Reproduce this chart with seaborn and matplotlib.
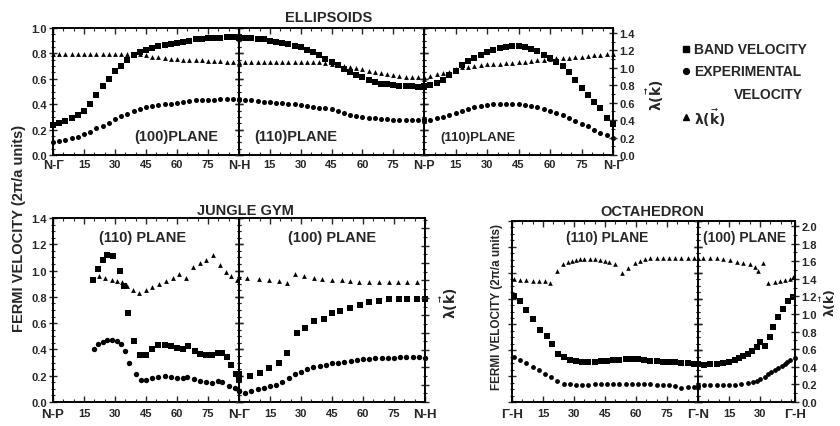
import matplotlib
matplotlib.use("Agg")
import matplotlib.pyplot as plt
import seaborn as sns
from matplotlib.ticker import MultipleLocator, FixedLocator
from matplotlib.lines import Line2D

# ---------------- DATA ----------------
# Ellipsoids, angle grid (degrees)
ell_ang = [0, 3, 6, 9, 12, 15, 18, 21, 24, 27, 30, 33, 36, 39, 42, 45, 48, 51, 54, 57,
           60, 63, 66, 69, 72, 75, 78, 81, 84, 87, 90]
# (100) plane  N-Gamma -> N-H
ell1_band = [0.24, 0.255, 0.27, 0.29, 0.315, 0.35, 0.40, 0.47, 0.54, 0.60, 0.66, 0.70, 0.745,
             0.785, 0.81, 0.825, 0.84, 0.855, 0.865, 0.875, 0.885, 0.89, 0.90, 0.91, 0.915,
             0.92, 0.925, 0.925, 0.93, 0.93, 0.93]
ell1_exp = [0.105, 0.11, 0.115, 0.13, 0.145, 0.165, 0.185, 0.21, 0.23, 0.255, 0.28, 0.305,
            0.325, 0.345, 0.36, 0.375, 0.385, 0.395, 0.40, 0.405, 0.41, 0.42, 0.425, 0.43,
            0.43, 0.435, 0.435, 0.44, 0.44, 0.44, 0.44]
ell1_lam = [1.16, 1.16, 1.16, 1.16, 1.16, 1.16, 1.16, 1.16, 1.16, 1.16, 1.16, 1.16, 1.16,
            1.16, 1.16, 1.145, 1.13, 1.12, 1.11, 1.105, 1.10, 1.095, 1.09, 1.09, 1.085,
            1.08, 1.08, 1.075, 1.07, 1.065, 1.06]
# (110) plane  N-H -> N-P
ell2_band = [0.92, 0.92, 0.92, 0.915, 0.91, 0.90, 0.893, 0.883, 0.872, 0.86, 0.847, 0.83,
             0.81, 0.785, 0.755, 0.73, 0.71, 0.68, 0.655, 0.633, 0.612, 0.59, 0.573, 0.562,
             0.556, 0.55, 0.545, 0.542, 0.54, 0.538, 0.535]
ell2_exp = [0.43, 0.43, 0.43, 0.425, 0.42, 0.416, 0.413, 0.41, 0.404, 0.40, 0.396, 0.388,
            0.38, 0.373, 0.367, 0.36, 0.347, 0.33, 0.318, 0.307, 0.30, 0.295, 0.29, 0.287,
            0.283, 0.277, 0.275, 0.275, 0.275, 0.276, 0.28]
ell2_lam = [1.065, 1.065, 1.065, 1.065, 1.065, 1.065, 1.065, 1.065, 1.065, 1.065, 1.065,
            1.065, 1.065, 1.065, 1.058, 1.045, 1.032, 1.018, 1.005, 0.995, 0.985, 0.97,
            0.957, 0.943, 0.932, 0.92, 0.91, 0.90, 0.895, 0.89, 0.89]
# (110) plane  N-P -> N-Gamma
ell3_band = [0.545, 0.555, 0.57, 0.59, 0.63, 0.665, 0.71, 0.74, 0.765, 0.79, 0.81, 0.83,
             0.843, 0.852, 0.857, 0.86, 0.85, 0.835, 0.82, 0.79, 0.762, 0.733, 0.70, 0.65,
             0.59, 0.53, 0.47, 0.42, 0.37, 0.29, 0.245]
ell3_exp = [0.27, 0.278, 0.288, 0.297, 0.315, 0.333, 0.348, 0.362, 0.375, 0.385, 0.392,
            0.398, 0.40, 0.40, 0.40, 0.40, 0.395, 0.386, 0.375, 0.362, 0.347, 0.332, 0.312,
            0.29, 0.268, 0.245, 0.225, 0.20, 0.175, 0.155, 0.135]
ell3_lam = [0.87, 0.905, 0.925, 0.94, 0.955, 0.99, 1.005, 1.015, 1.025, 1.035, 1.04, 1.045,
            1.05, 1.055, 1.06, 1.065, 1.07, 1.075, 1.085, 1.095, 1.10, 1.108, 1.114, 1.118,
            1.122, 1.128, 1.135, 1.145, 1.15, 1.155, 1.16]

# Jungle gym, (110) plane  N-P -> N-Gamma
jg1_band_ang = [19.5, 22, 24.3, 26.3, 29.2, 32.4, 34.5, 36.4, 39.2, 42, 45, 48, 51, 54, 57,
                60, 63, 65.5, 68.5, 71, 74, 77, 80, 82, 84, 86, 88.5, 90]
jg1_band = [0.93, 1.015, 1.08, 1.12, 1.11, 1.0, 0.88, 0.68, 0.465, 0.357, 0.357, 0.40, 0.43,
            0.435, 0.425, 0.41, 0.40, 0.425, 0.39, 0.365, 0.36, 0.36, 0.37, 0.375, 0.34,
            0.28, 0.21, 0.17]
jg1_exp_ang = [20, 22, 24, 26, 28.5, 31, 33, 34.6, 36.7, 40, 42.4, 45, 48, 51, 54, 57, 60,
               63, 65, 68, 71, 74, 77, 80, 82, 85, 88, 90]
jg1_exp = [0.40, 0.44, 0.46, 0.47, 0.475, 0.465, 0.44, 0.39, 0.30, 0.215, 0.17, 0.165, 0.18,
           0.19, 0.195, 0.193, 0.185, 0.18, 0.19, 0.175, 0.162, 0.152, 0.148, 0.16, 0.155,
           0.125, 0.105, 0.085]
jg1_lam_ang = [18.9, 22.1, 25.4, 28.6, 31.1, 33.5, 36, 38.7, 41.6, 44.9, 48.1, 51.4, 54.6,
               57.9, 61.1, 64.4, 67.7, 70.9, 74.1, 77.4, 80.6, 83.9, 86.3, 88.8]
jg1_lam = [1.41, 1.45, 1.43, 1.41, 1.39, 1.38, 1.34, 1.29, 1.255, 1.29, 1.33, 1.36, 1.39,
           1.43, 1.48, 1.43, 1.56, 1.60, 1.64, 1.69, 1.58, 1.50, 1.45, 1.41]
# Jungle gym, (100) plane  N-Gamma -> N-H
jg2_band_ang = [0, 5.5, 10.3, 14.4, 19.2, 23.2, 28, 32.1, 36.1, 41, 45, 49, 53.8, 58.7, 62.7,
                67.6, 72.4, 77.3, 81.3, 86.1, 90]
jg2_band = [0.21, 0.197, 0.223, 0.26, 0.298, 0.374, 0.526, 0.564, 0.615, 0.635, 0.678,
            0.696, 0.716, 0.736, 0.76, 0.772, 0.78, 0.78, 0.784, 0.787, 0.78]
jg2_exp_ang = [0, 3, 6, 9, 12, 15, 18, 21, 24, 27, 30, 33, 36, 39, 42, 45, 48, 51, 54, 57,
               60, 63, 66, 69, 72, 75, 78, 81, 84, 87, 90]
jg2_exp = [0.08, 0.07, 0.085, 0.097, 0.107, 0.118, 0.13, 0.15, 0.18, 0.212, 0.232, 0.248,
           0.265, 0.275, 0.283, 0.293, 0.30, 0.307, 0.312, 0.318, 0.325, 0.33, 0.335, 0.336,
           0.336, 0.337, 0.34, 0.342, 0.342, 0.34, 0.336]
jg2_lam_ang = [0, 3.9, 9.5, 14.4, 19.2, 23.2, 27.2, 31.3, 36.1, 40.2, 45, 49.8, 53.8, 58,
               62.7, 67.5, 72.4, 77, 81.3, 86.1]
jg2_lam = [1.44, 1.43, 1.415, 1.40, 1.39, 1.37, 1.48, 1.45, 1.43, 1.415, 1.405, 1.40, 1.39,
           1.385, 1.38, 1.38, 1.38, 1.38, 1.38, 1.38]

# Octahedron, (110) plane  Gamma-H -> Gamma-N
oc1_band_ang = [1, 4, 7, 10, 13.5, 16.8, 19.2, 22.4, 25, 28, 31, 34, 37, 40, 43, 46, 49, 52,
                55, 58, 61, 64, 67, 70, 73, 76, 79, 82, 85, 88, 90]
oc1_band = [0.82, 0.78, 0.71, 0.64, 0.56, 0.51, 0.45, 0.375, 0.345, 0.328, 0.318, 0.312,
            0.31, 0.31, 0.314, 0.318, 0.322, 0.326, 0.33, 0.334, 0.332, 0.326, 0.32, 0.316,
            0.312, 0.31, 0.307, 0.304, 0.30, 0.296, 0.295]
oc1_exp_ang = [1, 4, 7, 10, 13, 16, 19, 22, 25, 28, 31, 34, 37, 40, 43, 46, 49, 52, 55, 58,
               61, 64, 67, 70, 73, 76, 79, 82, 85, 88, 90]
oc1_exp = [0.345, 0.325, 0.30, 0.27, 0.245, 0.22, 0.195, 0.165, 0.14, 0.137, 0.135, 0.135,
           0.135, 0.136, 0.137, 0.14, 0.142, 0.143, 0.143, 0.143, 0.142, 0.14, 0.137, 0.135,
           0.133, 0.13, 0.125, 0.112, 0.113, 0.116, 0.116]
oc1_lam_ang = [1, 4, 7, 10, 13, 16, 18.4, 21.6, 24.8, 27, 29, 31, 33, 35, 37.7, 40, 42.6, 45,
               47, 49.8, 53.1, 56.3, 59.5, 62, 64.5, 67, 70, 73, 76, 79, 82, 85, 88]
oc1_lam = [1.395, 1.39, 1.383, 1.378, 1.375, 1.375, 1.356, 1.489, 1.565, 1.59, 1.60, 1.612,
           1.62, 1.625, 1.63, 1.625, 1.614, 1.605, 1.595, 1.565, 1.47, 1.526, 1.58, 1.605,
           1.625, 1.633, 1.64, 1.64, 1.64, 1.64, 1.64, 1.64, 1.64]
# Octahedron, (100) plane  Gamma-N -> Gamma-H
oc2_band_ang = [0, 3, 6, 9, 12, 15, 18, 20, 22, 24, 26, 28.4, 30, 32.4, 34.8, 36.4, 38.8,
                41.3, 43.7, 46.1]
oc2_band = [0.295, 0.29, 0.292, 0.296, 0.304, 0.313, 0.328, 0.343, 0.355, 0.372, 0.394,
            0.423, 0.466, 0.435, 0.50, 0.578, 0.655, 0.72, 0.783, 0.815]
oc2_exp_ang = [0, 3, 6, 9, 12, 15, 18, 21, 24, 26.8, 28.5, 30, 32.4, 34, 35.6, 37.2, 38.8,
               40.5, 42.1, 43.3, 44.5, 46.9]
oc2_exp = [0.135, 0.135, 0.132, 0.131, 0.131, 0.131, 0.135, 0.14, 0.148, 0.157, 0.165,
           0.175, 0.196, 0.215, 0.234, 0.25, 0.265, 0.28, 0.296, 0.31, 0.322, 0.343]
oc2_lam_ang = [0, 2.6, 5.8, 9, 12.2, 15.5, 18.7, 21.9, 25.2, 27.6, 29.2, 31.3, 34, 37.3,
               39.7, 42.1, 44.5, 46]
oc2_lam = [1.64, 1.64, 1.64, 1.633, 1.62, 1.61, 1.594, 1.583, 1.565, 1.534, 1.489, 1.583,
           1.356, 1.367, 1.375, 1.383, 1.394, 1.42]

# ---------------- STYLE ----------------
sns.set_theme(style="ticks")
FONT = ["Liberation Sans", "DejaVu Sans"]
plt.rcParams["font.family"] = FONT
plt.rcParams["font.weight"] = "bold"
plt.rcParams["axes.linewidth"] = 1.2
plt.rcParams["mathtext.default"] = "bf"

W, H = 840, 427
fig = plt.figure(figsize=(8.4, 4.27), dpi=100)
fig.patch.set_facecolor("white")

LAM = r"$\lambda(\vec{k})$"


def add_ax(x0, y0, x1, y1):
    return fig.add_axes([x0 / W, 1 - y1 / H, (x1 - x0) / W, (y1 - y0) / H])


def panel(rect, xlim, xt, xl, vlim, vmaj, vmin, llim, lmaj, lmin,
          show_v=False, show_lright=False, lam_labels=True, xpad=2, vlabels=True,
          edge_size=9.5):
    ax = add_ax(*rect)
    axr = ax.twinx()
    ax.set_facecolor("none")
    ax.set_xlim(xlim)
    ax.set_ylim(vlim)
    axr.set_ylim(llim)
    ax.xaxis.set_major_locator(FixedLocator(xt))
    ax.set_xticklabels(xl)
    ax.xaxis.set_minor_locator(MultipleLocator(5))
    ax.yaxis.set_major_locator(MultipleLocator(vmaj))
    ax.yaxis.set_minor_locator(MultipleLocator(vmin))
    axr.yaxis.set_major_locator(MultipleLocator(lmaj))
    axr.yaxis.set_minor_locator(MultipleLocator(lmin))
    ax.tick_params(axis="x", which="major", direction="in", top=True, bottom=True,
                   length=4, width=1.0, pad=xpad, labelsize=8)
    ax.tick_params(axis="x", which="minor", direction="in", top=True, bottom=True,
                   length=2.5, width=0.8)
    ax.tick_params(axis="y", which="major", direction="inout", left=True,
                   right=not show_lright, length=6, width=1.0, pad=1.5, labelsize=8,
                   labelleft=(show_v and vlabels))
    ax.tick_params(axis="y", which="minor", direction="inout", left=True,
                   right=not show_lright, length=3.5, width=0.8)
    axr.tick_params(axis="y", which="major", direction="inout", right=show_lright,
                    length=6, width=1.0, pad=1.5, labelsize=8,
                    labelright=(show_lright and lam_labels))
    axr.tick_params(axis="y", which="minor", direction="inout", right=show_lright,
                    length=3.5, width=0.8)
    for t in ax.get_xticklabels():
        if "-" in t.get_text():
            t.set_fontsize(edge_size)
    for a in (ax, axr):
        a.set_xlabel("")
        a.set_ylabel("")
        for s in a.spines.values():
            s.set_linewidth(1.2)
            s.set_color("black")
    return ax, axr


def draw(ax, axr, bx, by, ex, ey, lx, ly, sq=12, ci=10, tr=9):
    sns.scatterplot(x=bx, y=by, ax=ax, marker="s", s=sq, color="black", linewidth=0,
                    clip_on=False, zorder=3)
    sns.scatterplot(x=ex, y=ey, ax=ax, marker="o", s=ci, color="black", linewidth=0,
                    clip_on=False, zorder=3)
    sns.scatterplot(x=lx, y=ly, ax=axr, marker="^", s=tr, color="black", linewidth=0,
                    clip_on=False, zorder=3)
    for a in (ax, axr):
        a.set_xlabel("")
        a.set_ylabel("")


MID = [15, 30, 45, 60, 75]
MIDL = ["15", "30", "45", "60", "75"]

# ---- Ellipsoids ----
ELL_V = (0, 1.0)
ELL_L = (0, 1.458)
a, b = panel((53, 29, 239, 156), (0, 90), [0] + MID + [90], ["N-Γ"] + MIDL + ["N-H"],
             ELL_V, 0.2, 0.05, ELL_L, 0.2, 0.1, show_v=True, xpad=3, edge_size=9)
draw(a, b, ell_ang, ell1_band, ell_ang, ell1_exp, ell_ang, ell1_lam, sq=16, ci=13, tr=12)
a, b = panel((239, 29, 424, 156), (0, 90), MID + [90], MIDL + ["N-P"],
             ELL_V, 0.2, 0.05, ELL_L, 0.2, 0.1, xpad=3, edge_size=9)
draw(a, b, ell_ang, ell2_band, ell_ang, ell2_exp, ell_ang, ell2_lam, sq=16, ci=13, tr=12)
a, b = panel((424, 29, 613, 156), (0, 90), MID + [90], MIDL + ["N-Γ"],
             ELL_V, 0.2, 0.05, ELL_L, 0.2, 0.1, show_lright=True, xpad=3, edge_size=9)
draw(a, b, ell_ang, ell3_band, ell_ang, ell3_exp, ell_ang, ell3_lam, sq=16, ci=13, tr=12)

# ---- Jungle gym ----
JG_V = (0, 1.4)
JG_L = (0, 2.12)
a, b = panel((53, 219, 239, 403), (0, 90), [0] + MID + [90], ["N-P"] + MIDL + ["N-Γ"],
             JG_V, 0.2, 0.05, JG_L, 0.2, 0.1, show_v=True, xpad=4)
draw(a, b, jg1_band_ang, jg1_band, jg1_exp_ang, jg1_exp, jg1_lam_ang, jg1_lam,
     sq=22, ci=15, tr=12)
a, b = panel((239, 219, 425, 403), (0, 90), MID + [90], MIDL + ["N-H"],
             JG_V, 0.2, 0.05, JG_L, 0.2, 0.1, show_lright=True, lam_labels=False, xpad=4)
draw(a, b, jg2_band_ang, jg2_band, jg2_exp_ang, jg2_exp, jg2_lam_ang, jg2_lam,
     sq=22, ci=15, tr=12)

# ---- Octahedron ----
OC_V = (0, 1.4)
OC_L = (0, 2.057)
a, b = panel((512, 222, 698, 403), (0, 90), [0] + MID + [90], ["Γ-H"] + MIDL + ["Γ-N"],
             OC_V, 0.2, 0.05, OC_L, 0.2, 0.1, show_v=True, vlabels=False, xpad=4)
draw(a, b, oc1_band_ang, oc1_band, oc1_exp_ang, oc1_exp, oc1_lam_ang, oc1_lam,
     sq=17, ci=12, tr=11)
a, b = panel((698, 222, 795, 403), (0, 47), [15, 30, 47], ["15", "30", "Γ-H"],
             OC_V, 0.2, 0.05, OC_L, 0.2, 0.1, show_lright=True, xpad=4)
draw(a, b, oc2_band_ang, oc2_band, oc2_exp_ang, oc2_exp, oc2_lam_ang, oc2_lam,
     sq=17, ci=12, tr=11)


# ---------------- TEXT ----------------
def ftext(x, y, s, size=10, **kw):
    fig.text(x / W, 1 - y / H, s, fontsize=size, fontweight="bold", **kw)


ftext(329, 18, "ELLIPSOIDS", 10.5, ha="center", va="center")
ftext(245, 211, "JUNGLE GYM", 10.5, ha="center", va="center")
ftext(652, 212, "OCTAHEDRON", 10.5, ha="center", va="center")

ftext(176, 137, "(100)PLANE", 10.5, ha="center", va="center")
ftext(296, 137, "(110)PLANE", 10.5, ha="center", va="center")
ftext(478, 138, "(110)PLANE", 9.5, ha="center", va="center")
ftext(143, 238, "(110) PLANE", 10.5, ha="center", va="center")
ftext(332, 238, "(100) PLANE", 10.5, ha="center", va="center")
ftext(607, 238, "(110) PLANE", 10, ha="center", va="center")
ftext(745, 238, "(100) PLANE", 10, ha="center", va="center")

ftext(19, 228, "FERMI VELOCITY (2π/a units)", 10.5, ha="center", va="center", rotation=90)
ftext(497, 307, "FERMI VELOCITY (2π/a units)", 8.5, ha="center", va="center", rotation=90)

ftext(655, 95, LAM, 10, ha="center", va="center", rotation=90)
ftext(449, 303, LAM, 10, ha="center", va="center", rotation=90)
ftext(828, 303, LAM, 9, ha="center", va="center", rotation=90)

# legend
leg_items = [(50, "s", "BAND VELOCITY"), (72, "o", "EXPERIMENTAL"), (118, "^", LAM)]
for yy, mk, lab in leg_items:
    fig.add_artist(Line2D([686 / W], [1 - yy / H], marker=mk, markersize=4.2,
                          color="black", linestyle="none", transform=fig.transFigure))
    ftext(694, yy, lab, 10, ha="left", va="center")
ftext(803, 95, "VELOCITY", 10, ha="right", va="center")

fig.savefig("out.png", dpi=100, facecolor="white")
